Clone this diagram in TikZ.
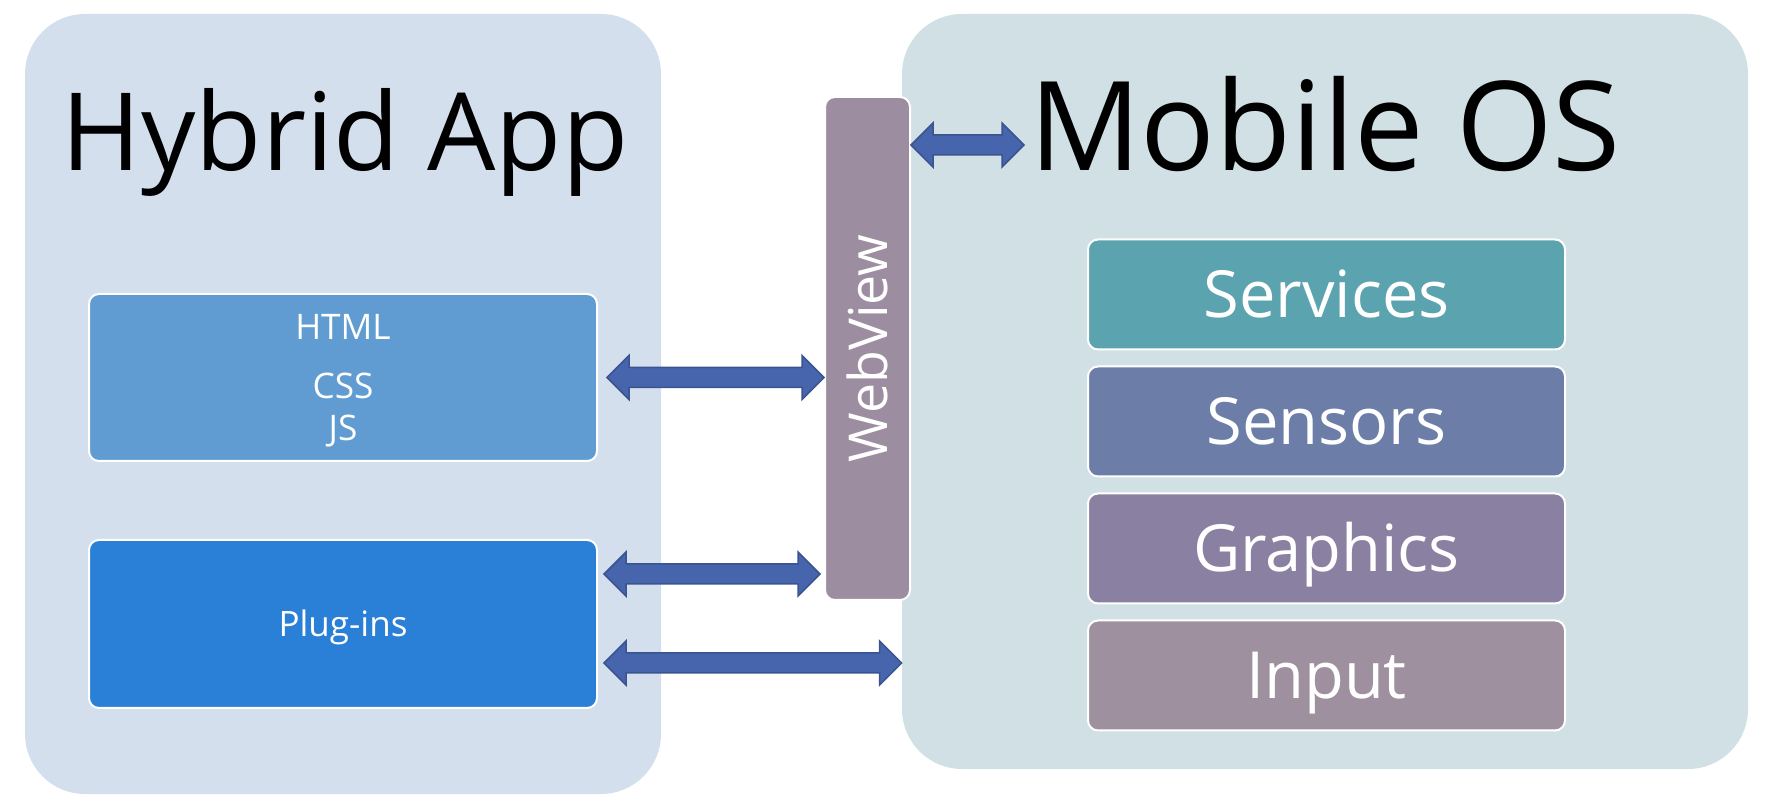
\documentclass[tikz,border=0pt]{standalone}
\usepackage{fontspec}
\setmainfont{Open Sans}
\usetikzlibrary{positioning,calc}
\definecolor{appbg}{RGB}{212,223,238}
\definecolor{osbg}{RGB}{208,224,228}
\definecolor{htmlfill}{RGB}{96,156,209}
\definecolor{plugfill}{RGB}{42,127,214}
\definecolor{wvfill}{RGB}{156,142,160}
\definecolor{servfill}{RGB}{91,163,175}
\definecolor{sensfill}{RGB}{108,126,168}
\definecolor{gfxfill}{RGB}{138,128,162}
\definecolor{inpfill}{RGB}{158,144,159}
\definecolor{arrfill}{RGB}{71,101,173}
\definecolor{arrline}{RGB}{58,84,144}
\tikzset{
panel/.style={rounded corners=30pt, inner sep=0pt},
tile/.style={draw=white, line width=1pt, rounded corners=5pt, text=white, inner sep=0pt},
ostile/.style={tile, minimum width=238.5pt, minimum height=55pt, text height=23pt, text depth=0pt,
  font=\fontsize{32.5}{38}\selectfont},
dblarr/.style={fill=arrfill, draw=arrline, line width=0.75pt, line join=miter}}
\newcommand{\dblarrow}[2]{%
\path[dblarr] let \p1=(#1), \p2=(#2) in
(\x1,\y1) -- (\x1+11pt,\y1+11pt) -- (\x1+11pt,\y1+5pt) -- (\x2-11pt,\y1+5pt) -- (\x2-11pt,\y1+11pt)
-- (\x2,\y1) -- (\x2-11pt,\y1-11pt) -- (\x2-11pt,\y1-5pt) -- (\x1+11pt,\y1-5pt) -- (\x1+11pt,\y1-11pt) -- cycle;}

\begin{document}
\begin{tikzpicture}[x=0.5pt,y=0.5pt,yscale=-1,xscale=1]
\useasboundingbox (0,0) rectangle (1773,806);

%Shape: Rounded Rectangle [app panel]
\node[panel, fill=appbg, minimum width=318pt, minimum height=390pt] (apppanel) at (343,404) {};
%Shape: Rounded Rectangle [os panel]
\node[panel, fill=osbg, minimum width=423pt, minimum height=377.5pt] (ospanel) at (1325,391.5) {};

%Titles
\node[anchor=base, font=\fontsize{54}{64}\selectfont] (apptitle) at (345,171) {Hybrid App};
\node[anchor=base, font=\fontsize{62}{74}\selectfont] (ostitle) at (1325,171) {Mobile OS};

%Shape: app tiles
\node[tile, fill=htmlfill, minimum width=254pt, minimum height=83.5pt] (html) at (343,377.5) {};
\node[align=center, text=white, font=\fontsize{17.6}{21}\selectfont] (htmltext)
      at ([yshift=1.8pt]html.center) {HTML\\[8.5pt]CSS\\JS};
\node[tile, fill=plugfill, minimum width=254pt, minimum height=84pt, text height=12.5pt, text depth=0pt,
      font=\fontsize{17.5}{21}\selectfont] (plugins) at (343,624) {Plug-ins};

%Shape: WebView bar
\node[tile, fill=wvfill, minimum width=42.5pt, minimum height=251.5pt] (webview) at (867.5,348.5) {};
\node[rotate=90, text=white, font=\fontsize{26.8}{32}\selectfont] (wvlabel) at (webview.center) {WebView};

%Shape: os tiles
\node[ostile, fill=servfill] (services) at (1326.5,294.5) {Services};
\node[ostile, fill=sensfill, below=7.5pt of services] (sensors) {Sensors};
\node[ostile, fill=gfxfill, below=7.5pt of sensors] (graphics) {Graphics};
\node[ostile, fill=inpfill, below=7.5pt of graphics] (input) {Input};

%Arrow ends
\coordinate (htmlR) at ([xshift=4.5pt]html.east);
\coordinate (wvL1) at (webview.west |- htmlR);
\coordinate (plugR1) at ([xshift=3pt,yshift=-25pt]plugins.east);
\coordinate (wvL2) at ([xshift=-2pt]webview.west |- plugR1);
\coordinate (plugR2) at ([xshift=3pt,yshift=19.5pt]plugins.east);
\coordinate (osL) at (ospanel.west |- plugR2);
\coordinate (osT) at (1024,145);
\coordinate (wvR) at (webview.east |- osT);

%Shape: double arrows
\dblarrow{wvR}{osT}
\dblarrow{htmlR}{wvL1}
\dblarrow{plugR1}{wvL2}
\dblarrow{plugR2}{osL}

\end{tikzpicture}
\end{document}
